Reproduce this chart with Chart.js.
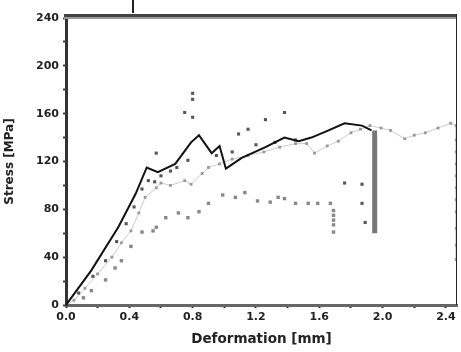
<!DOCTYPE html>
<html>
    <head>
        <meta charset="UTF-8" />
        <title>Stress - Deformation</title>
        <style type="text/css">
            html, body { margin: 0; padding: 0; background: #fff; }
            .chartBox { width: 461px; height: 352px; }
        </style>
    </head>
    <body>
        <div class="chartBox">
            <canvas id="myChart"></canvas>
        </div>

        <script src="https://cdn.jsdelivr.net/npm/chart.js"></script>
        <script>
            // axis ticks
            const xTicks = [0, 0.2, 0.4, 0.6, 0.8, 1.0, 1.2, 1.4, 1.6, 1.8, 2.0, 2.2, 2.4];
            const xLabels = ['0.0', '', '0.4', '', '0.8', '', '1.2', '', '1.6', '', '2.0', '', '2.4'];
            const yTicks = [0, 20, 40, 60, 80, 100, 120, 140, 160, 180, 200, 220, 240];
            const yLabels = ['0', '', '40', '', '80', '', '120', '', '160', '', '200', '', '240'];

            // specimen 1 - solid line
            const defoA = [0, 0.16, 0.33, 0.44, 0.51, 0.58, 0.69, 0.79, 0.84, 0.92, 0.97, 1.01, 1.11, 1.26, 1.38, 1.47, 1.55, 1.64, 1.76, 1.87, 1.93];
            const stressA = [0, 29, 65, 93, 115, 111, 118, 136, 142, 127, 133, 114, 123, 132, 140, 137, 140, 145, 152, 150, 146];

            // specimen 2 - dark markers
            const defoB = [0, 0.08, 0.17, 0.25, 0.32, 0.38, 0.43, 0.48, 0.52, 0.56, 0.57, 0.6, 0.66, 0.7, 0.75, 0.77, 0.8, 0.8, 0.8, 0.95, 1.05, 1.09, 1.15, 1.2, 1.26, 1.32, 1.38, 1.45, 1.76, 1.87, 1.87, 1.89];
            const stressB = [0, 10, 24, 37, 53, 68, 82, 97, 104, 103, 127, 108, 112, 115, 161, 121, 157, 172, 177, 125, 128, 143, 147, 134, 155, 136, 161, 138, 102, 101, 85, 69];

            // specimen 3 - light markers
            const defoC = [0, 0.05, 0.12, 0.2, 0.29, 0.35, 0.41, 0.46, 0.5, 0.57, 0.6, 0.66, 0.75, 0.79, 0.86, 0.9, 0.97, 1.05, 1.15, 1.25, 1.35, 1.45, 1.52, 1.57, 1.65, 1.72, 1.8, 1.86, 1.92, 1.99, 2.05, 2.14, 2.2, 2.27, 2.35, 2.43, 2.465, 2.465, 2.465, 2.465, 2.465, 2.465, 2.465, 2.465, 2.465, 2.465, 2.465];
            const stressC = [0, 4, 14, 26, 40, 52, 62, 77, 90, 98, 102, 100, 104, 101, 110, 115, 118, 122, 125, 128, 132, 135, 135, 127, 133, 137, 144, 147, 150, 148, 146, 139, 142, 144, 148, 152, 150, 138, 128, 118, 108, 98, 88, 78, 64, 50, 38];

            // specimen 4 - lowest curve
            const defoD = [0, 0.11, 0.16, 0.25, 0.31, 0.35, 0.41, 0.48, 0.55, 0.57, 0.63, 0.71, 0.77, 0.84, 0.9, 0.99, 1.07, 1.13, 1.21, 1.29, 1.34, 1.38, 1.45, 1.53, 1.59, 1.67, 1.69, 1.69, 1.69, 1.69, 1.69];
            const stressD = [0, 6, 12, 21, 31, 37, 49, 61, 62, 65, 73, 77, 73, 78, 85, 92, 90, 94, 87, 86, 90, 89, 85, 85, 85, 85, 79, 75, 71, 67, 61];

            // failure drop of specimen 2
            const defoE = [1.95, 1.95];
            const stressE = [146, 60];

            const toXY = (xs, ys) => xs.map((x, i) => ({ x: x, y: ys[i] }));

            const labelFont = { family: 'DejaVu Sans', size: 11, weight: 'bold' };

            // frame: thick top edge, thin right edge
            const framePlugin = {
                id: 'frame',
                afterDraw(chart) {
                    const ctx = chart.ctx;
                    const a = chart.chartArea;
                    ctx.save();
                    ctx.fillStyle = '#444';
                    ctx.fillRect(a.left - 2, a.top - 4, a.right - a.left + 2, 3);
                    ctx.fillStyle = '#999';
                    ctx.fillRect(a.left - 2, a.top - 1, a.right - a.left + 2, 2);
                    ctx.fillStyle = '#222';
                    ctx.fillRect(a.right - 1, a.top - 4, 1, a.bottom - a.top + 4);
                    ctx.fillRect(132, 0, 2, 13);
                    ctx.restore();
                }
            };

            const config = {
                type: 'scatter',
                data: {
                    datasets: [{
                        label: 'A',
                        data: toXY(defoA, stressA),
                        showLine: true,
                        borderColor: '#111',
                        borderWidth: 2,
                        pointRadius: 0,
                        order: 1
                    }, {
                        label: 'B',
                        data: toXY(defoB, stressB),
                        showLine: false,
                        pointStyle: 'rect',
                        pointRadius: 2.2,
                        backgroundColor: '#555',
                        borderWidth: 0,
                        order: 2
                    }, {
                        label: 'C',
                        data: toXY(defoC, stressC),
                        showLine: true,
                        borderColor: 'rgba(170,170,170,0.6)',
                        borderWidth: 1,
                        pointStyle: 'rect',
                        pointRadius: 2,
                        backgroundColor: '#999',
                        pointBorderWidth: 0,
                        order: 3
                    }, {
                        label: 'D',
                        data: toXY(defoD, stressD),
                        showLine: false,
                        pointStyle: 'rect',
                        pointRadius: 2.4,
                        backgroundColor: '#888',
                        borderWidth: 0,
                        order: 4
                    }, {
                        label: 'E',
                        data: toXY(defoE, stressE),
                        showLine: true,
                        borderColor: '#777',
                        borderWidth: 5,
                        borderCapStyle: 'butt',
                        pointRadius: 0,
                        order: 5
                    }]
                },
                options: {
                    responsive: true,
                    maintainAspectRatio: false,
                    animation: false,
                    layout: { padding: { top: 18, right: 2, left: 0, bottom: 0 } },
                    plugins: {
                        legend: { display: false },
                        tooltip: { enabled: false }
                    },
                    scales: {
                        x: {
                            type: 'linear',
                            min: 0,
                            max: 2.47,
                            afterBuildTicks: (s) => { s.ticks = xTicks.map(v => ({ value: v })); },
                            afterFit: (s) => { s.height = 47; },
                            ticks: {
                                color: '#222',
                                font: labelFont,
                                padding: 3,
                                maxRotation: 0,
                                autoSkip: false,
                                callback: (v, i) => xLabels[i]
                            },
                            grid: {
                                drawOnChartArea: false,
                                drawTicks: true,
                                tickLength: 3,
                                tickWidth: 2,
                                tickColor: '#222'
                            },
                            border: { color: '#666', width: 3 },
                            title: {
                                display: true,
                                text: 'Deformation [mm]',
                                color: '#222',
                                font: { family: 'DejaVu Sans', size: 13.5, weight: 'bold' },
                                padding: { top: 1 }
                            }
                        },
                        y: {
                            type: 'linear',
                            min: 0,
                            max: 240,
                            afterBuildTicks: (s) => { s.ticks = yTicks.map(v => ({ value: v })); },
                            afterFit: (s) => { s.width = 66; },
                            ticks: {
                                color: '#222',
                                font: labelFont,
                                padding: 4,
                                autoSkip: false,
                                callback: (v, i) => yLabels[i]
                            },
                            grid: {
                                drawOnChartArea: false,
                                drawTicks: true,
                                tickLength: 3,
                                tickWidth: 2,
                                tickColor: '#444'
                            },
                            border: { color: '#333', width: 3 },
                            title: {
                                display: true,
                                text: 'Stress [MPa]',
                                color: '#222',
                                font: { family: 'DejaVu Sans', size: 12, weight: 'bold' },
                                padding: { top: 3 }
                            }
                        }
                    }
                },
                plugins: [framePlugin]
            };

            const myChart = new Chart(document.getElementById('myChart'), config);
        </script>
    </body>
</html>
